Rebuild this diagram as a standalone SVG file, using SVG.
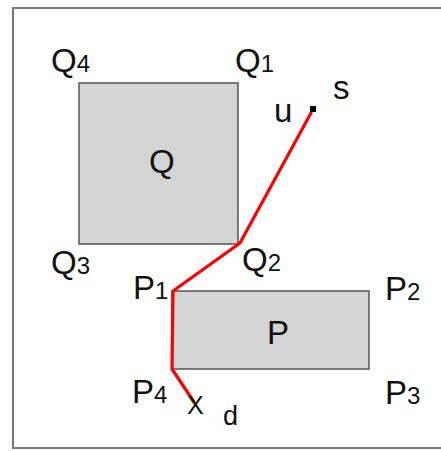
<svg xmlns="http://www.w3.org/2000/svg" width="441" height="451" viewBox="0 0 441 451">
<style>
.frame{fill:#fff;stroke:#7a7a7a;stroke-width:2}
.ob{fill:#d4d4d4;stroke:#555;stroke-width:1.5}
.t{font-family:"Liberation Sans",Arial,sans-serif;fill:#111;font-size:33px}
.s{font-size:24px}
.path{fill:none;stroke:#f00;stroke-width:3.2;stroke-linejoin:round;stroke-linecap:round}
</style>
<rect x="0" y="0" width="441" height="451" fill="#fff"/>
<rect class="frame" x="13" y="8" width="440" height="440"/>
<g id="Q">
<rect class="ob" x="79" y="83" width="159" height="161"/>
<text class="t" x="149" y="173">Q</text>
</g>
<g id="P">
<rect class="ob" x="172" y="291" width="197" height="78"/>
<text class="t" x="267" y="344">P</text>
</g>
<g id="labels">
<text class="t" x="51" y="72">Q<tspan class="s">4</tspan></text>
<text class="t" x="235" y="72">Q<tspan class="s">1</tspan></text>
<text class="t" x="51" y="274">Q<tspan class="s">3</tspan></text>
<text class="t" x="242" y="271">Q<tspan class="s">2</tspan></text>
<text class="t" x="133" y="299">P<tspan class="s">1</tspan></text>
<text class="t" x="385" y="300">P<tspan class="s">2</tspan></text>
<text class="t" x="385" y="404">P<tspan class="s">3</tspan></text>
<text class="t" x="132" y="403">P<tspan class="s">4</tspan></text>
<text class="t" x="274" y="122">u</text>
<text class="t" x="333" y="99">s</text>
<text class="t" x="223" y="425" style="font-size:27px">d</text>
</g>
<g id="connectors">
<polyline class="path" points="311,113 240,243 173,291 172,369 194,402"/>
</g>
<g id="s-node"><rect x="310" y="106" width="6" height="6" fill="#000"/></g>
<g id="d-node"><text class="t" x="187" y="414" style="font-size:25px">X</text></g>
</svg>
